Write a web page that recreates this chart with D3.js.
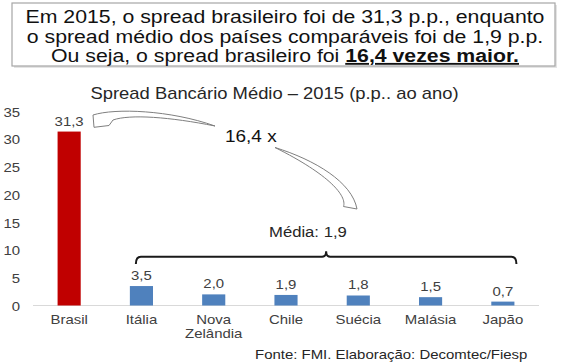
<!DOCTYPE html>
<html><head><meta charset="utf-8">
<script src="https://cdn.jsdelivr.net/npm/d3@7"></script>
<style>
html,body{margin:0;padding:0;background:#fff;}
svg{display:block;font-family:"Liberation Sans",Arial,sans-serif;}
</style></head>
<body>
<script>
// ---- data ----
const categories = ["Brasil", "Itália", "Nova Zelândia", "Chile", "Suécia", "Malásia", "Japão"];
const values = [31.3, 3.5, 2.0, 1.9, 1.8, 1.5, 0.7];
const valueLabels = ["31,3", "3,5", "2,0", "1,9", "1,8", "1,5", "0,7"];
const yTicks = [0, 5, 10, 15, 20, 25, 30, 35];
const headline = [
  "Em 2015, o spread brasileiro foi de 31,3 p.p., enquanto",
  "o spread médio dos países comparáveis foi de 1,9 p.p."
];
const headlineLast = ["Ou seja, o spread brasileiro foi ", "16,4 vezes maior."];
const chartTitle = "Spread Bancário Médio – 2015 (p.p.. ao ano)";
const ratioLabel = "16,4 x";
const meanLabel = "Média: 1,9";
const source = "Fonte: FMI. Elaboração: Decomtec/Fiesp";

// ---- layout ----
const W = 567, H = 364, SX = 1.15;
const svg = d3.select("body").append("svg").attr("width", W).attr("height", H);

const x = d3.scaleBand().domain(categories).range([33, 539]).paddingInner(0.68).paddingOuter(0.34);
const y = d3.scaleLinear().domain([0, 35]).range([305.5, 111]);

function txt(sel, px, py, s, size, anchor, fill, weight) {
  return sel.append("text")
    .attr("transform", `translate(${px},${py}) scale(${SX},1)`)
    .attr("text-anchor", anchor || "start")
    .attr("font-size", size)
    .attr("font-weight", weight || "normal")
    .attr("fill", fill || "#404040")
    .text(s);
}

// headline box
svg.append("rect").attr("x", 14).attr("y", 5).attr("width", 543).attr("height", 63).attr("fill", "#e4e4e4");
svg.append("rect").attr("x", 12).attr("y", 3).attr("width", 543).attr("height", 63)
  .attr("fill", "#fff").attr("stroke", "#a6a6a6").attr("stroke-width", 1.2);
txt(svg, 285, 23, headline[0], 18.5, "middle", "#111");
txt(svg, 285, 43, headline[1], 18.5, "middle", "#111");
const last = svg.append("text")
  .attr("transform", `translate(285,62) scale(${SX},1)`)
  .attr("text-anchor", "middle").attr("font-size", 18.5).attr("fill", "#111");
last.append("tspan").text(headlineLast[0]);
last.append("tspan").attr("font-weight", "bold").attr("text-decoration", "underline").text(headlineLast[1]);

// chart title
txt(svg, 274.5, 98.5, chartTitle, 16, "middle", "#262626");

// baseline
svg.append("line").attr("x1", x.range()[0]).attr("x2", x.range()[1])
  .attr("y1", y(0)).attr("y2", y(0)).attr("stroke", "#d9d9d9").attr("stroke-width", 1);

// y axis
const yAxis = svg.append("g").attr("transform", "translate(20,0)")
  .call(d3.axisLeft(y).tickValues(yTicks).tickSize(0).tickPadding(0).tickFormat(d3.format("d")));
yAxis.select(".domain").remove();
yAxis.selectAll("text")
  .attr("x", null).attr("dy", null).attr("y", 5)
  .attr("transform", `scale(${SX},1)`)
  .attr("font-family", "Liberation Sans, Arial, sans-serif")
  .attr("font-size", 13).attr("fill", "#404040").attr("text-anchor", "end");

// x axis
const xAxis = svg.append("g").attr("transform", `translate(0,${y(0)})`)
  .call(d3.axisBottom(x).tickSize(0).tickPadding(0));
xAxis.select(".domain").remove();
xAxis.selectAll("text").each(function(d) {
  const t = d3.select(this);
  t.text(null).attr("y", null).attr("dy", null)
    .attr("transform", `scale(${SX},1)`)
    .attr("font-family", "Liberation Sans, Arial, sans-serif")
    .attr("font-size", 13).attr("fill", "#404040").attr("text-anchor", "middle");
  d.split(" ").forEach((w, i) => t.append("tspan").attr("x", 0).attr("y", 18.5 + i * 14.5).text(w));
});

// bars
svg.append("g").selectAll("rect").data(values).join("rect")
  .attr("x", (d, i) => x(categories[i]))
  .attr("width", x.bandwidth())
  .attr("y", d => y(d))
  .attr("height", d => y(0) - y(d))
  .attr("fill", (d, i) => i === 0 ? "#C00000" : "#4F81BD");

// value labels
values.forEach((v, i) => {
  txt(svg, x(categories[i]) + x.bandwidth() / 2, y(v) - 6, valueLabels[i], 13, "middle", "#404040");
});

// mean bracket over comparable countries
const bx0 = x(categories[1]) + 6, bx1 = x(categories[6]) + x.bandwidth() + 2;
const by = 256.7, bm = (bx0 + bx1) / 2;
svg.append("path")
  .attr("d", `M${bx0},264 Q${bx0},${by} ${bx0 + 5},${by} L${bm - 4},${by} Q${bm},${by} ${bm},${by - 5.5} Q${bm},${by} ${bm + 4},${by} L${bx1 - 5},${by} Q${bx1},${by} ${bx1},264`)
  .attr("fill", "none").attr("stroke", "#1a1a1a").attr("stroke-width", 2);
txt(svg, 269, 237, meanLabel, 14.5, "start", "#262626");

// ratio label and curved hollow arrows
txt(svg, 225, 142, ratioLabel, 16.5, "start", "#111");
svg.append("path")
  .attr("d", "M93,115 C115,108 170,110 215,126 C170,117 130,114 113,120 L109,125.5 L94,127.3 Z")
  .attr("fill", "#fff").attr("stroke", "#7f7f7f").attr("stroke-width", 1);
svg.append("path")
  .attr("d", "M275,147.5 C315,160 352,182 357,209 L343.5,206.5 C347,196 330,175 275,147.5 Z")
  .attr("fill", "#fff").attr("stroke", "#7f7f7f").attr("stroke-width", 1);

// source
txt(svg, 255, 359, source, 13, "start", "#262626");
</script>
</body></html>
